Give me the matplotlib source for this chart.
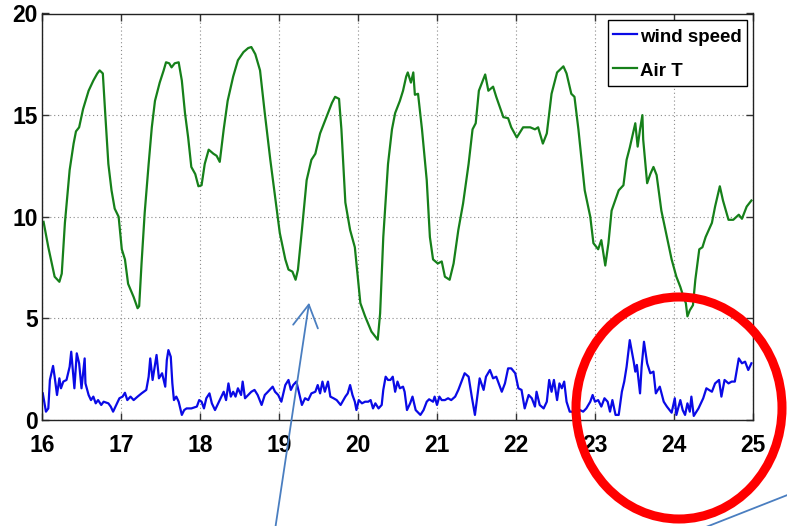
import matplotlib
matplotlib.use("Agg")
import matplotlib.pyplot as plt
from matplotlib.patches import Ellipse, FancyArrowPatch
from matplotlib.lines import Line2D

# Air temperature (day of month, degrees)
air_day = [16.02, 16.08, 16.16, 16.22, 16.25, 16.29, 16.35, 16.40, 16.43, 16.47,
           16.52, 16.59, 16.65, 16.70, 16.73, 16.77, 16.80, 16.84, 16.88, 16.92,
           16.97, 17.01, 17.05, 17.09, 17.16, 17.21, 17.23, 17.26, 17.30, 17.35,
           17.39, 17.43, 17.49, 17.54, 17.57, 17.61, 17.64, 17.68, 17.73, 17.77,
           17.81, 17.85, 17.89, 17.94, 17.98, 18.02, 18.06, 18.11, 18.17, 18.21,
           18.25, 18.30, 18.35, 18.42, 18.48, 18.55, 18.61, 18.65, 18.70, 18.76,
           18.82, 18.89, 18.95, 19.01, 19.08, 19.12, 19.17, 19.21, 19.24, 19.29,
           19.35, 19.41, 19.46, 19.52, 19.60, 19.67, 19.71, 19.76, 19.79, 19.84,
           19.90, 19.96, 20.03, 20.09, 20.17, 20.25, 20.28, 20.32, 20.38, 20.43,
           20.47, 20.53, 20.57, 20.61, 20.63, 20.67, 20.70, 20.72, 20.76, 20.81,
           20.87, 20.91, 20.95, 21.01, 21.06, 21.10, 21.16, 21.21, 21.27, 21.33,
           21.40, 21.45, 21.49, 21.53, 21.61, 21.65, 21.71, 21.75, 21.84, 21.90,
           21.94, 22.01, 22.09, 22.18, 22.24, 22.28, 22.34, 22.39, 22.45, 22.52,
           22.60, 22.64, 22.70, 22.74, 22.79, 22.87, 22.94, 22.98, 23.04, 23.08,
           23.13, 23.17, 23.21, 23.30, 23.36, 23.40, 23.44, 23.51, 23.54, 23.57,
           23.60, 23.61, 23.66, 23.70, 23.74, 23.78, 23.84, 23.91, 23.97, 24.03,
           24.08, 24.12, 24.15, 24.17, 24.20, 24.24, 24.27, 24.32, 24.36, 24.40,
           24.48, 24.52, 24.58, 24.62, 24.69, 24.75, 24.82, 24.86, 24.92, 24.98]
air_t = [9.75, 8.5, 7.05, 6.8, 7.2, 9.7, 12.3, 13.6, 14.2, 14.4,
         15.3, 16.2, 16.7, 17.05, 17.2, 17.05, 15.1, 12.6, 11.3, 10.4,
         10.0, 8.4, 7.9, 6.7, 6.05, 5.5, 5.6, 7.7, 10.2, 12.6,
         14.4, 15.7, 16.6, 17.2, 17.6, 17.55, 17.35, 17.55, 17.6, 16.7,
         15.1, 13.9, 12.45, 12.1, 11.5, 11.55, 12.6, 13.3, 13.1, 13.0,
         12.7, 14.3, 15.7, 16.9, 17.7, 18.1, 18.3, 18.35, 18.0, 17.2,
         15.1, 12.8, 11.0, 9.2, 7.9, 7.4, 7.3, 6.9, 7.4, 9.35,
         11.8, 12.8, 13.1, 14.1, 14.9, 15.6, 15.9, 15.8, 14.3, 10.7,
         9.35, 8.5, 5.75, 5.1, 4.35, 3.95, 5.25, 9.0, 12.6, 14.3,
         15.1, 15.7, 16.2, 16.9, 17.1, 16.6, 17.1, 16.0, 16.05, 14.3,
         11.8, 9.0, 7.9, 7.7, 7.8, 7.05, 6.9, 7.7, 9.35, 10.65,
         12.6, 14.3, 14.6, 16.2, 17.0, 16.2, 16.4, 15.9, 14.9, 14.85,
         14.4, 13.9, 14.4, 14.4, 14.3, 14.4, 13.6, 14.1, 16.05, 17.1,
         17.4, 17.05, 16.05, 15.9, 14.3, 11.3, 10.0, 8.7, 8.4, 8.85,
         7.6, 8.7, 10.3, 11.3, 11.55, 12.8, 13.4, 14.6, 13.45, 14.3,
         15.0, 13.8, 11.65, 12.1, 12.45, 12.05, 10.3, 9.0, 7.9, 7.05,
         6.55, 6.05, 5.75, 5.1, 5.4, 5.65, 6.9, 8.4, 8.5, 9.0,
         9.7, 10.5, 11.5, 10.8, 9.85, 9.85, 10.1, 9.9, 10.5, 10.8]

# Wind speed (day of month, m/s)
wind_day = [16.01, 16.05, 16.08, 16.10, 16.14, 16.16, 16.19, 16.22, 16.24, 16.27,
            16.31, 16.35, 16.37, 16.39, 16.41, 16.44, 16.47, 16.50, 16.54, 16.55,
            16.59, 16.62, 16.65, 16.68, 16.71, 16.75, 16.78, 16.84, 16.87, 16.90,
            16.94, 16.98, 17.02, 17.05, 17.08, 17.12, 17.16, 17.21, 17.26, 17.32,
            17.35, 17.37, 17.40, 17.43, 17.45, 17.48, 17.52, 17.54, 17.56, 17.58,
            17.60, 17.63, 17.65, 17.67, 17.70, 17.73, 17.75, 17.77, 17.80, 17.83,
            17.89, 17.96, 17.99, 18.02, 18.05, 18.08, 18.12, 18.15, 18.19, 18.25,
            18.30, 18.33, 18.36, 18.39, 18.42, 18.45, 18.48, 18.52, 18.54, 18.57,
            18.61, 18.65, 18.69, 18.73, 18.78, 18.82, 18.86, 18.92, 18.95, 18.99,
            19.03, 19.08, 19.12, 19.15, 19.18, 19.22, 19.25, 19.29, 19.33, 19.37,
            19.41, 19.46, 19.49, 19.52, 19.55, 19.58, 19.62, 19.65, 19.69, 19.73,
            19.78, 19.84, 19.87, 19.90, 19.93, 19.96, 19.98, 20.01, 20.05, 20.09,
            20.13, 20.16, 20.19, 20.22, 20.26, 20.30, 20.32, 20.35, 20.38, 20.41,
            20.44, 20.47, 20.50, 20.53, 20.57, 20.59, 20.62, 20.66, 20.69, 20.73,
            20.79, 20.83, 20.87, 20.90, 20.95, 20.97, 21.00, 21.03, 21.06, 21.10,
            21.14, 21.18, 21.23, 21.27, 21.31, 21.35, 21.40, 21.44, 21.48, 21.51,
            21.54, 21.59, 21.62, 21.67, 21.71, 21.75, 21.82, 21.86, 21.90, 21.94,
            21.99, 22.03, 22.07, 22.11, 22.16, 22.20, 22.24, 22.26, 22.30, 22.35,
            22.39, 22.42, 22.45, 22.48, 22.52, 22.55, 22.58, 22.61, 22.64, 22.68,
            22.70, 22.77, 22.81, 22.85, 22.89, 22.94, 22.97, 23.00, 23.04, 23.08,
            23.12, 23.16, 23.19, 23.22, 23.26, 23.30, 23.34, 23.37, 23.40, 23.44,
            23.49, 23.51, 23.53, 23.57, 23.59, 23.62, 23.66, 23.70, 23.74, 23.77,
            23.82, 23.87, 23.91, 23.97, 24.01, 24.03, 24.08, 24.11, 24.14, 24.17,
            24.20, 24.22, 24.25, 24.31, 24.37, 24.41, 24.48, 24.52, 24.57, 24.60,
            24.64, 24.69, 24.73, 24.77, 24.82, 24.86, 24.90, 24.94, 24.98]
wind_speed = [1.31, 0.41, 0.57, 1.97, 2.66, 2.13, 1.23, 2.05, 1.56, 1.89,
              1.97, 2.62, 3.36, 2.46, 1.56, 3.28, 2.79, 1.56, 3.03, 1.80,
              1.23, 0.98, 1.15, 0.82, 0.98, 0.74, 0.90, 0.82, 0.66, 0.41,
              0.74, 1.07, 1.15, 1.34, 0.98, 1.15, 0.98, 1.15, 1.31, 1.48,
              2.13, 3.03, 1.97, 2.71, 3.20, 2.05, 2.30, 1.97, 1.64, 2.95,
              3.44, 3.11, 1.80, 0.98, 1.15, 0.90, 0.57, 0.25, 0.49, 0.57,
              0.57, 0.66, 0.98, 0.90, 0.57, 1.07, 1.31, 0.82, 0.49, 0.98,
              1.39, 0.98, 1.80, 1.15, 1.39, 1.15, 1.56, 1.23, 1.89, 1.07,
              1.23, 1.39, 1.48, 1.23, 0.74, 1.23, 1.39, 1.64, 1.39, 1.23,
              0.90, 1.72, 1.97, 1.48, 1.72, 1.89, 1.39, 0.74, 1.07, 0.98,
              1.31, 1.39, 1.72, 1.31, 1.89, 1.39, 1.89, 1.15, 1.07, 0.98,
              0.74, 1.15, 1.31, 1.72, 1.23, 0.90, 0.49, 0.98, 0.82, 0.90,
              0.90, 0.98, 0.57, 0.82, 0.57, 0.74, 1.48, 2.13, 1.97, 1.97,
              2.13, 1.39, 1.89, 1.56, 1.64, 1.39, 0.49, 0.82, 1.15, 0.49,
              0.25, 0.49, 0.90, 1.02, 0.90, 1.15, 0.74, 1.15, 0.98, 0.98,
              1.07, 0.98, 1.15, 1.48, 1.89, 2.30, 2.13, 1.15, 0.25, 1.15,
              2.05, 1.48, 2.13, 2.46, 2.05, 2.13, 1.39, 1.80, 2.54, 2.54,
              2.30, 1.56, 1.48, 0.57, 1.23, 1.07, 0.66, 1.39, 0.74, 0.57,
              0.90, 1.97, 1.39, 1.97, 0.98, 1.80, 1.56, 1.89, 0.90, 0.41,
              0.41, 0.33, 0.49, 0.41, 0.57, 0.90, 1.23, 0.90, 0.98, 0.66,
              1.07, 0.90, 0.41, 0.98, 0.25, 0.25, 1.39, 1.89, 2.62, 3.93,
              2.87, 2.38, 2.71, 1.31, 2.62, 3.85, 2.79, 2.30, 2.38, 1.31,
              1.64, 0.90, 0.66, 0.36, 1.07, 0.25, 0.98, 0.49, 0.25, 0.82,
              0.41, 1.15, 0.20, 0.57, 1.07, 1.56, 1.39, 1.80, 1.97, 1.15,
              1.97, 1.80, 1.89, 1.89, 3.03, 2.79, 2.87, 2.46, 2.79]

x_ticks = [16, 17, 18, 19, 20, 21, 22, 23, 24, 25]
y_ticks = [0, 5, 10, 15, 20]

W, H = 787, 526
fig = plt.figure(figsize=(W / 100, H / 100), dpi=100)
ax = fig.add_axes([42 / W, 1 - 420 / H, (753 - 42) / W, (420 - 13.5) / H])

ax.plot(wind_day, wind_speed, color="#0a0ae6", lw=1.6, label="wind speed")
ax.plot(air_day, air_t, color="#16801a", lw=1.6, label="Air T")

ax.set_xlim(16, 25)
ax.set_ylim(0, 20)
ax.set_xticks(x_ticks)
ax.set_yticks(y_ticks)

tick_font = dict(family="Liberation Sans", weight="bold", size=16.5)
ax.set_xticklabels([str(t) for t in x_ticks], **tick_font)
ax.set_yticklabels([str(t) for t in y_ticks], **tick_font)
ax.tick_params(axis="both", direction="in", length=5, width=1, color="#333333",
               top=True, right=True)
ax.tick_params(axis="x", pad=10)
ax.tick_params(axis="y", pad=3)

ax.grid(True, linestyle=(0, (1, 2.5)), color="#8a8a8a", lw=0.8)
for s in ax.spines.values():
    s.set_color("#222222")
    s.set_linewidth(1.0)

leg = ax.legend(loc="upper right", bbox_to_anchor=(0.9915, 0.984), fancybox=False,
                framealpha=1, edgecolor="black", handlelength=1.3,
                handleheight=1.4, handletextpad=0.15, borderpad=0.28,
                labelspacing=0.65, borderaxespad=0.0,
                prop=dict(family="Liberation Sans", weight="bold", size=13.5))
leg.get_frame().set_linewidth(1.0)

# Overlay markings in figure pixel coordinates
def fx(px):
    return px / W

def fy(py):
    return 1 - py / H

circle = Ellipse((fx(679), fy(408)), width=206 / W, height=222 / H,
                 transform=fig.transFigure, fill=False, edgecolor="#ff0000",
                 lw=6.5, zorder=10)
fig.add_artist(circle)

arrow = FancyArrowPatch((fx(275), fy(530)), (fx(309.5), fy(300)),
                        transform=fig.transFigure,
                        arrowstyle="->,head_length=8,head_width=4.5",
                        mutation_scale=2.0, color="#4a7ec0", lw=1.3, zorder=11)
fig.add_artist(arrow)

fig.add_artist(Line2D([fx(706), fx(790)], [fy(527), fy(494)],
                      transform=fig.transFigure, color="#4a7ec0", lw=1.3, zorder=11))

fig.savefig("out.png", dpi=100)
